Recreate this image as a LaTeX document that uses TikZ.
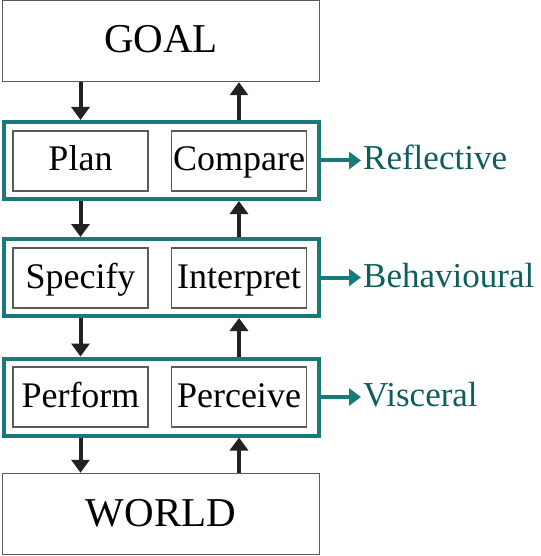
\documentclass[tikz,border=0pt]{standalone}
\usepackage{fontspec}
\setmainfont{Liberation Serif}
\usetikzlibrary{arrows.meta, positioning}

\definecolor{layerteal}{RGB}{24,122,122}
\definecolor{labelteal}{RGB}{14,94,94}
\definecolor{boxgray}{RGB}{90,90,90}
\definecolor{flowblack}{RGB}{34,34,34}

\begin{document}
\begin{tikzpicture}[x=1pt, y=-1pt,
    endbox/.style={draw=boxgray, line width=1.5pt, minimum width=317pt,
        minimum height=81pt, inner sep=0pt, text height=32pt, text depth=8pt,
        font=\fontsize{41}{46}\selectfont},
    layerbox/.style={draw=layerteal, line width=4pt, minimum width=315pt,
        minimum height=77pt, inner sep=0pt},
    stagebox/.style={draw=boxgray, line width=1.2pt, minimum width=135pt,
        minimum height=60pt, inner sep=0pt, text height=27pt, text depth=7pt,
        font=\fontsize{36}{42}\selectfont},
    levellabel/.style={text=labelteal, inner sep=2pt, text height=26pt,
        text depth=7pt, font=\fontsize{35}{42}\selectfont},
    flow/.style={flowblack, line width=4pt, -{Triangle[length=13pt, width=18pt]}},
    levelarrow/.style={layerteal, line width=4pt, -{Triangle[length=12pt, width=17pt]}}
]

    % Frame
    \useasboundingbox (0,0) rectangle (540,556);

    % 1. Goal and world
    \node[endbox] (goal)  at (161,41)  {GOAL};
    \node[endbox] (world) at (161,514) {WORLD};

    % 2. The three layers
    \node[layerbox] (refl)  at (161.5,160.5) {};
    \node[layerbox] (behav) at (161.5,277.5) {};
    \node[layerbox] (visc)  at (161.5,397)   {};

    % 3. Stages inside each layer
    \node[stagebox] (plan)      at (80.5,161) {Plan};
    \node[stagebox] (compare)   at (239,161)  {Compare};
    \node[stagebox] (specify)   at (80.5,278) {Specify};
    \node[stagebox] (interpret) at (239,278)  {Interpret};
    \node[stagebox] (perform)   at (80.5,397) {Perform};
    \node[stagebox] (perceive)  at (239,397)  {Perceive};

    % 4. Downward flow (left) and upward flow (right)
    \draw[flow] (goal.south -| plan)    -- (refl.north -| plan);
    \draw[flow] (refl.south -| plan)    -- (behav.north -| plan);
    \draw[flow] (behav.south -| plan)   -- (visc.north -| plan);
    \draw[flow] (visc.south -| plan)    -- (world.north -| plan);
    \draw[flow] (world.north -| compare) -- (visc.south -| compare);
    \draw[flow] (visc.north -| compare)  -- (behav.south -| compare);
    \draw[flow] (behav.north -| compare) -- (refl.south -| compare);
    \draw[flow] (refl.north -| compare)  -- (goal.south -| compare);

    % 5. Level names
    \node[levellabel, right=40pt of refl]  (reflective)  {Reflective};
    \node[levellabel, right=40pt of behav] (behavioural) {Behavioural};
    \node[levellabel, right=40pt of visc]  (visceral)    {Visceral};
    \draw[levelarrow] (refl.east)  -- (reflective.west);
    \draw[levelarrow] (behav.east) -- (behavioural.west);
    \draw[levelarrow] (visc.east)  -- (visceral.west);

\end{tikzpicture}
\end{document}
